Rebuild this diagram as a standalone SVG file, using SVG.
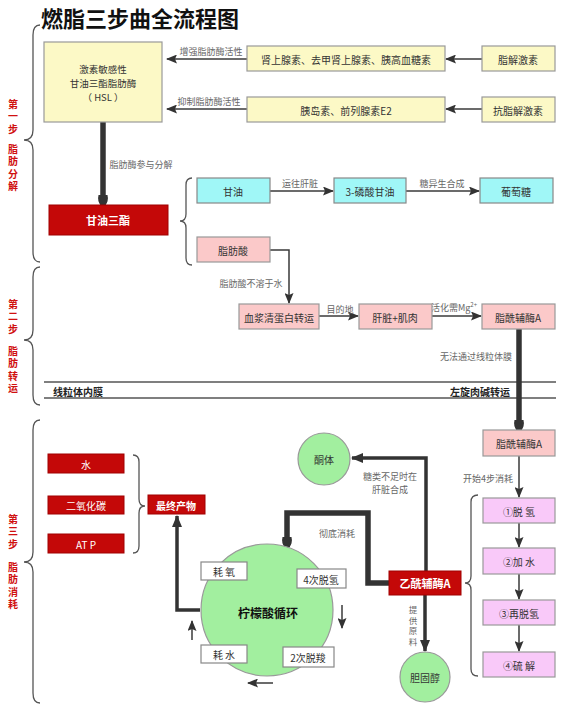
<svg xmlns="http://www.w3.org/2000/svg" width="564" height="706" viewBox="0 0 564 706">
<style>
text{font-family:"Noto Sans CJK SC","Noto Sans",sans-serif;dominant-baseline:central;text-anchor:middle}
.t{font-size:10px;fill:#333}
.lb{font-size:9px;fill:#666}
.st{font-size:10px;fill:#d01010;font-weight:bold;writing-mode:vertical-rl;text-anchor:start;letter-spacing:2.5px}
.vl{font-size:8.5px;fill:#666;writing-mode:vertical-rl;text-anchor:start;letter-spacing:2px}
.w{font-size:10px;fill:#fff}
.wb{font-size:11px;fill:#fff;font-weight:bold}
.y{fill:#fcf9c6;stroke:#999;stroke-width:1.2}
.c{fill:#a0f7f7;stroke:#888;stroke-width:1.2}
.p{fill:#fbc9c9;stroke:#999;stroke-width:1.2}
.m{fill:#f9c9f9;stroke:#999;stroke-width:1.2}
.r{fill:#c40808;stroke:#a00000;stroke-width:1}
.g{fill:#a2ef9f;stroke:#999;stroke-width:1.2}
.wbx{fill:#fff;stroke:#888;stroke-width:1.2}
.e{fill:none;stroke:#3a3a3a;stroke-width:1.5}
.e3{fill:none;stroke:#333;stroke-width:3.5}
.e5{fill:none;stroke:#333;stroke-width:5.5}
.br{fill:none;stroke:#555;stroke-width:1.3}
</style>
<defs>
<marker id="a" markerUnits="userSpaceOnUse" markerWidth="11" markerHeight="9" refX="10" refY="4.5" orient="auto"><path d="M0,0 L11,4.5 L0,9 L2,4.5 z" fill="#333"/></marker>
<marker id="at" markerUnits="userSpaceOnUse" markerWidth="12" markerHeight="12" refX="11" refY="6" orient="auto"><path d="M0,1 L12,6 L0,11 z" fill="#333"/></marker>
<marker id="ab" markerUnits="userSpaceOnUse" markerWidth="12" markerHeight="12" refX="10" refY="6" orient="auto"><path d="M0,1.5 Q6,0 11,4 L11,8 Q6,12 0,10.5 z" fill="#333"/></marker>
</defs>

<text x="140" y="17" style="font-size:22px;font-weight:bold;fill:#111">燃脂三步曲全流程图</text>

<g id="braces">
<path class="br" d="M40,25 Q33,25 33,35 L33,130 Q33,140 24,140 Q33,140 33,150 L33,252 Q33,262 40,262"/>
<path class="br" d="M40,267 Q33,267 33,277 L33,330 Q33,340 24,340 Q33,340 33,350 L33,395 Q33,405 40,405"/>
<path class="br" d="M40,420 Q33,420 33,430 L33,552 Q33,562 24,562 Q33,562 33,572 L33,693 Q33,703 40,703"/>
<path class="br" d="M192,178 Q186,178 186,185 L186,214 Q186,221 180,221 Q186,221 186,228 L186,258 Q186,265 192,265"/>
<path class="br" d="M133,455 Q139,455 139,462 L139,499 Q139,506 145,506 Q139,506 139,513 L139,546 Q139,553 133,553"/>
<path class="br" d="M478,495 Q471,495 471,502 L471,576 Q471,583 465,583 Q471,583 471,590 L471,669 Q471,676 478,676"/>
</g>

<g id="step-labels">
<text class="st" x="13" y="99">第一步</text>
<text class="st" x="13" y="144">脂肪分解</text>
<text class="st" x="13" y="299">第二步</text>
<text class="st" x="13" y="346">脂肪转运</text>
<text class="st" x="13" y="514">第三步</text>
<text class="st" x="13" y="562">脂肪消耗</text>
</g>

<g id="membrane">
<line x1="44" y1="382" x2="556" y2="382" stroke="#555" stroke-width="1.3"/>
<line x1="44" y1="398" x2="556" y2="398" stroke="#555" stroke-width="1.3"/>
<text x="78" y="391" style="font-size:10px;font-weight:bold;fill:#222">线粒体内膜</text>
<text x="480" y="391" style="font-size:10px;font-weight:bold;fill:#222">左旋肉碱转运</text>
</g>

<g id="connectors">
<line class="e" x1="247" y1="59" x2="167" y2="59" marker-end="url(#a)"/>
<line class="e" x1="482" y1="59" x2="446" y2="59" marker-end="url(#a)"/>
<line class="e" x1="247" y1="109" x2="167" y2="109" marker-end="url(#a)"/>
<line class="e" x1="482" y1="109" x2="446" y2="109" marker-end="url(#a)"/>
<line class="e5" x1="103" y1="122" x2="103" y2="205" marker-end="url(#ab)"/>
<line class="e" x1="270" y1="191" x2="333" y2="191" marker-end="url(#a)"/>
<line class="e" x1="406" y1="191" x2="479" y2="191" marker-end="url(#a)"/>
<path class="e" d="M270,250 L289,250 L289,303" marker-end="url(#a)"/>
<line class="e" x1="319" y1="316" x2="358" y2="316" marker-end="url(#a)"/>
<line class="e" x1="432" y1="316" x2="481" y2="316" marker-end="url(#a)"/>
<line class="e5" x1="519" y1="329" x2="519" y2="430" marker-end="url(#ab)"/>
<line class="e" x1="519" y1="456" x2="519" y2="497" marker-end="url(#a)"/>
<line class="e" x1="519" y1="523" x2="519" y2="547" marker-end="url(#a)"/>
<line class="e" x1="519" y1="574" x2="519" y2="599" marker-end="url(#a)"/>
<line class="e" x1="519" y1="625" x2="519" y2="651" marker-end="url(#a)"/>
<path class="e5" d="M389,583 L368,583 L368,513 L287,513 L287,547" marker-end="url(#ab)"/>
<path class="e3" d="M426,571 L426,458 L352,458" marker-end="url(#at)"/>
<line class="e3" x1="425" y1="595" x2="425" y2="651" marker-end="url(#at)"/>
<path class="e3" d="M200,610 L177,610 L177,516" marker-end="url(#at)"/>
<line class="e" x1="342" y1="605" x2="342" y2="628" marker-end="url(#a)"/>
<line class="e" x1="273" y1="683" x2="248" y2="683" marker-end="url(#a)"/>
<line class="e" x1="192" y1="640" x2="192" y2="621" marker-end="url(#a)"/>
<text class="lb" x="211" y="51">增强脂肪酶活性</text>
<text class="lb" x="209" y="101">抑制脂肪酶活性</text>
<text class="lb" x="141" y="164">脂肪酶参与分解</text>
<text class="lb" x="300" y="183">运往肝脏</text>
<text class="lb" x="442" y="183">糖异生合成</text>
<text class="lb" x="251" y="283">脂肪酸不溶于水</text>
<text class="lb" x="340" y="309">目的地</text>
<text class="lb" x="454" y="307">活化需Mg<tspan font-size="6" dy="-3">2+</tspan></text>
<text class="lb" x="476" y="356">无法通过线粒体膜</text>
<text class="lb" x="488" y="478">开始4步消耗</text>
<text class="lb" x="337" y="533">彻底消耗</text>
<text class="lb" x="390" y="476">糖类不足时在</text>
<text class="lb" x="390" y="489">肝脏合成</text>
<text class="vl" x="413" y="606">提供原料</text>
</g>

<g id="hsl"><rect class="y" x="44" y="42" width="118" height="80"/><text x="103" y="69" style="font-size:9.5px;fill:#333">激素敏感性<tspan x="103" dy="14">甘油三酯脂肪酶</tspan><tspan x="103" dy="14">（ HSL ）</tspan></text></g>
<g id="hormone1"><rect class="y" x="247" y="46" width="198" height="25"/><text class="t" x="346" y="59">肾上腺素、去甲肾上腺素、胰高血糖素</text></g>
<g id="lipolytic"><rect class="y" x="482" y="46" width="73" height="25"/><text class="t" x="518" y="59">脂解激素</text></g>
<g id="hormone2"><rect class="y" x="247" y="97" width="198" height="25"/><text class="t" x="346" y="110">胰岛素、前列腺素E2</text></g>
<g id="antilipolytic"><rect class="y" x="482" y="97" width="73" height="25"/><text class="t" x="518" y="110">抗脂解激素</text></g>
<g id="tg"><rect class="r" x="49" y="205" width="119" height="30"/><text class="wb" x="108" y="220">甘油三酯</text></g>
<g id="glycerol"><rect class="c" x="197" y="178" width="73" height="25"/><text class="t" x="233" y="191">甘油</text></g>
<g id="g3p"><rect class="c" x="334" y="178" width="72" height="25"/><text class="t" x="370" y="191">3-磷酸甘油</text></g>
<g id="glucose"><rect class="c" x="480" y="178" width="73" height="25"/><text class="t" x="516" y="191">葡萄糖</text></g>
<g id="fa"><rect class="p" x="197" y="237" width="73" height="25"/><text class="t" x="233" y="250">脂肪酸</text></g>
<g id="albumin"><rect class="p" x="239" y="304" width="80" height="25"/><text class="t" x="279" y="317">血浆清蛋白转运</text></g>
<g id="liver"><rect class="p" x="359" y="304" width="73" height="25"/><text class="t" x="395" y="317">肝脏+肌肉</text></g>
<g id="acylcoa1"><rect class="p" x="482" y="304" width="73" height="25"/><text class="t" x="518" y="317">脂酰辅酶A</text></g>
<g id="acylcoa2"><rect class="p" x="483" y="430" width="72" height="26"/><text class="t" x="519" y="443">脂酰辅酶A</text></g>
<g id="s1"><rect class="m" x="483" y="498" width="72" height="25"/><text class="t" x="519" y="511">①脱 氢</text></g>
<g id="s2"><rect class="m" x="483" y="548" width="72" height="26"/><text class="t" x="519" y="561">②加 水</text></g>
<g id="s3"><rect class="m" x="483" y="600" width="72" height="25"/><text class="t" x="519" y="613">③再脱氢</text></g>
<g id="s4"><rect class="m" x="483" y="652" width="72" height="25"/><text class="t" x="519" y="665">④硫 解</text></g>
<g id="acetylcoa"><rect class="r" x="389" y="571" width="72" height="24"/><text class="wb" x="425" y="583">乙酰辅酶A</text></g>
<g id="cholesterol"><circle class="g" cx="425" cy="677" r="25"/><text class="t" x="425" y="677">胆固醇</text></g>
<g id="ketone"><circle class="g" cx="324" cy="459" r="26"/><text class="t" x="324" y="459">酮体</text></g>
<g id="water"><rect class="r" x="48" y="454" width="76" height="19"/><text class="w" x="86" y="464">水</text></g>
<g id="co2"><rect class="r" x="48" y="496" width="76" height="18"/><text class="w" x="86" y="505">二氧化碳</text></g>
<g id="atp"><rect class="r" x="48" y="534" width="76" height="19"/><text class="w" x="86" y="544">AT P</text></g>
<g id="final"><rect class="r" x="148" y="495" width="57" height="19"/><text class="w" x="176" y="505" style="font-weight:bold">最终产物</text></g>
<g id="tca">
<circle class="g" cx="267" cy="610" r="66"/>
<text x="268" y="612" style="font-size:12px;font-weight:bold;fill:#111">柠檬酸循环</text>
<rect class="wbx" x="201" y="562" width="46" height="18"/><text class="t" x="224" y="571">耗 氧</text>
<rect class="wbx" x="297" y="569" width="49" height="19"/><text class="t" x="321" y="579">4次脱氢</text>
<rect class="wbx" x="201" y="645" width="46" height="18"/><text class="t" x="224" y="654">耗 水</text>
<rect class="wbx" x="283" y="647" width="51" height="20"/><text class="t" x="308" y="657">2次脱羧</text>
</g>
</svg>
